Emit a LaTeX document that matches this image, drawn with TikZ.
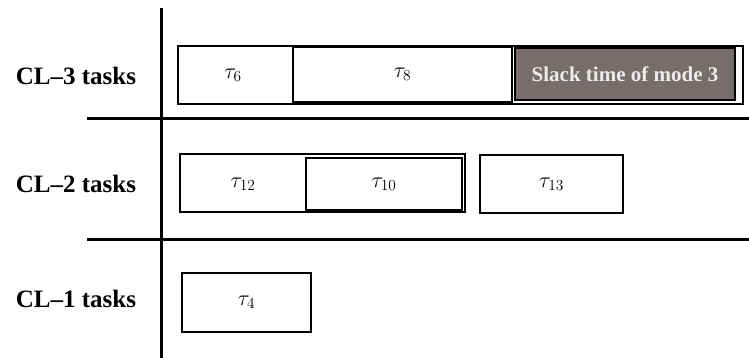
\RequirePackage{fix-cm}
\documentclass[tikz,border=0pt]{standalone}
\usepackage{fontspec}
\setmainfont{Liberation Serif}
\usepackage{tikz}
\usetikzlibrary{positioning}
\definecolor{slackgray}{HTML}{776E6C}

\begin{document}
\begin{tikzpicture}[
    x=1pt, y=-1pt,
    task/.style={draw, line width=1.3pt, fill=white, inner sep=0pt, font=\fontsize{22}{26}\selectfont},
    heavy/.style={task, line width=2.2pt},
    slack/.style={draw, line width=1.6pt, fill=slackgray, inner sep=0pt, text=white!92!black, font=\fontsize{21}{25}\selectfont\bfseries},
    rowlabel/.style={font=\fontsize{25}{29}\selectfont\bfseries},
    axis/.style={line width=3pt},
]
\useasboundingbox (0,0) rectangle (749,358);

% axes
\coordinate (vtop) at (161,8);
\coordinate (vbot) at (161,358);
\coordinate (hA) at (87,119);
\coordinate (hAend) at (749,119);
\coordinate (hB) at (87,239);
\coordinate (hBend) at (749,239);
\draw[axis] (vtop) -- (vbot);
\draw[axis] (hA) -- (hAend);
\draw[axis] (hB) -- (hBend);

% CL-3 row
\node[task, minimum width=565pt, minimum height=58pt] (row3) at (460.5,75) {};
\node[task, draw=none, fill=none] (t6) at (233,75) {$\tau_6$};
\node[heavy, minimum width=219pt, minimum height=55pt] (t8) at (402.5,74.5) {$\tau_8$};
\node[slack, minimum width=220pt, minimum height=52pt] (slk) at (625,74) {Slack time of mode 3};

% CL-2 row
\node[task, minimum width=285pt, minimum height=58pt] (row2) at (322.5,183) {};
\node[task, draw=none, fill=none] (t12) at (243,184) {$\tau_{12}$};
\node[heavy, minimum width=156pt, minimum height=52pt] (t10) at (384,184) {$\tau_{10}$};
\node[task, minimum width=143pt, minimum height=58pt] (t13) at (551.5,184) {$\tau_{13}$};

% CL-1 row
\node[task, minimum width=129pt, minimum height=59pt] (t4) at (246.5,302.5) {$\tau_4$};

% row labels
\node[rowlabel] (cl3) at (76,76) {CL--3 tasks};
\node[rowlabel] (cl2) at (76,184) {CL--2 tasks};
\node[rowlabel] (cl1) at (76,299) {CL--1 tasks};
\end{tikzpicture}
\end{document}
